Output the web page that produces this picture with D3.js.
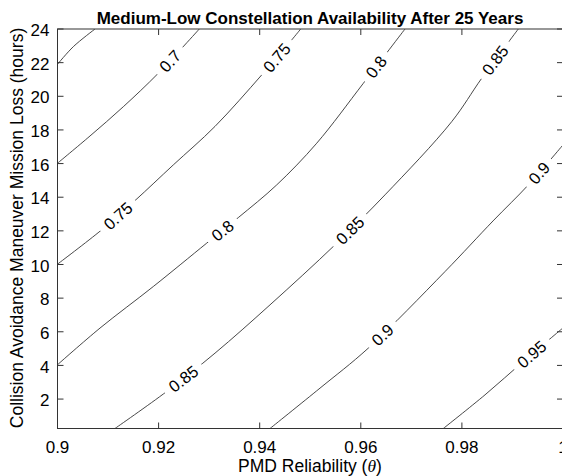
<!DOCTYPE html>
<html>
<head>
<meta charset="utf-8">
<script src="https://cdn.jsdelivr.net/npm/d3@7/dist/d3.min.js"></script>
<style>
body { margin: 0; background: #fff; }
text { font-family: Arial, "Liberation Sans", sans-serif; fill: #000; }
</style>
</head>
<body>
<svg id="chart" width="562" height="476"></svg>
<script>
// tick values
const xTicks = [0.9, 0.92, 0.94, 0.96, 0.98, 1];
const yTicks = [2, 4, 6, 8, 10, 12, 14, 16, 18, 20, 22, 24];

// contour lines: [theta, hours]
const levels = [0.65, 0.7, 0.75, 0.8, 0.85, 0.9, 0.95];
const line065 = [[0.9, 21.9], [0.90313, 22.95], [0.90742, 24]];
const line070 = [[0.9, 16.02], [0.90643, 17.64], [0.91302, 19.38], [0.91994, 21.37], [0.92805, 24]];
const line075 = [[0.9, 10.02], [0.90874, 12.06], [0.91533, 13.8], [0.92291, 15.92], [0.93116, 18.21], [0.9404, 21.27], [0.94633, 23.35], [0.94811, 24]];
const line080 = [[0.9, 4.04], [0.90841, 6.22], [0.91895, 8.69], [0.92952, 11.27], [0.93577, 12.79], [0.94336, 14.73], [0.95128, 17.21], [0.9605, 20.77], [0.96874, 24]];
const line085 = [[0.91137, 0.25], [0.9216, 2.45], [0.93116, 4.73], [0.94204, 7.6], [0.9549, 11.17], [0.96479, 14.14], [0.97798, 18.49], [0.98392, 21.07], [0.99116, 24]];
const line090 = [[0.94204, 0.25], [0.95193, 2.65], [0.96149, 5.03], [0.97666, 9.58], [0.98616, 12.59], [0.99314, 14.73], [1.0, 17.11]];
const line095 = [[0.97632, 0.25], [0.98457, 2.25], [0.99228, 4.27], [1.0, 6.23]];

// theta at which each inline label sits
const labels065 = [];
const labels070 = [0.92226];
const labels075 = [0.91197, 0.94336];
const labels080 = [0.93264, 0.96301];
const labels085 = [0.92489, 0.95786, 0.98655];
const labels090 = [0.96429, 0.99525];
const labels095 = [0.99381];

const contourLines = [line065, line070, line075, line080, line085, line090, line095];
const contourLabels = [labels065, labels070, labels075, labels080, labels085, labels090, labels095];

const margin = {top: 29, right: -1, bottom: 47.5, left: 57.5};
const width = 562, height = 476;

const svg = d3.select("#chart");

const x = d3.scaleLinear().domain([0.9, 1]).range([margin.left, width - margin.right]);
const y = d3.scaleLinear().domain([0.25, 24]).range([height - margin.bottom, margin.top]);

svg.append("defs").append("clipPath").attr("id", "plot-clip")
    .append("rect")
    .attr("x", x(0.9)).attr("y", y(24))
    .attr("width", x(1) - x(0.9)).attr("height", y(0.25) - y(24));

const lineGen = d3.line()
    .x(d => x(d[0]))
    .y(d => y(d[1]))
    .curve(d3.curveCatmullRom.alpha(0.5));

// Draw contour lines
const g = svg.append("g").attr("clip-path", "url(#plot-clip)");
const paths = g.selectAll(".contour")
    .data(contourLines)
    .enter().append("path")
    .attr("class", "contour")
    .attr("d", lineGen)
    .attr("fill", "none")
    .attr("stroke", "#333")
    .attr("stroke-width", 0.9);

// find the point on a path at a given pixel x (paths run left to right)
function pointAtX(node, px) {
    let lo = 0, hi = node.getTotalLength();
    for (let k = 0; k < 40; k++) {
        const mid = (lo + hi) / 2;
        if (node.getPointAtLength(mid).x < px) lo = mid; else hi = mid;
    }
    return lo;
}

// Inline labels: white gap + rotated text
paths.each(function (pts, i) {
    const node = this;
    const total = node.getTotalLength();
    contourLabels[i].forEach(theta => {
        const len = pointAtX(node, x(theta));
        const p = node.getPointAtLength(len);
        const a = node.getPointAtLength(Math.max(0, len - 4));
        const b = node.getPointAtLength(Math.min(total, len + 4));
        const ang = Math.atan2(b.y - a.y, b.x - a.x) * 180 / Math.PI;
        const lg = g.append("g")
            .attr("transform", `translate(${p.x},${p.y}) rotate(${ang})`);
        const rect = lg.append("rect").attr("fill", "#fff");
        const t = lg.append("text")
            .attr("text-anchor", "middle")
            .attr("dy", "0.36em")
            .style("font-size", "16.5px")
            .text(String(levels[i]));
        const w = t.node().getComputedTextLength() + 14;
        rect.attr("x", -w / 2).attr("y", -6).attr("width", w).attr("height", 12);
    });
});

// Axes box
const axisColor = "#333";
svg.append("rect")
    .attr("x", x(0.9)).attr("y", y(24))
    .attr("width", x(1) - x(0.9)).attr("height", y(0.25) - y(24))
    .attr("fill", "none").attr("stroke", axisColor).attr("stroke-width", 1);

const tickLen = 6;
const ticks = svg.append("g").attr("stroke", axisColor).attr("stroke-width", 1);
xTicks.forEach(t => {
    ticks.append("line").attr("x1", x(t)).attr("x2", x(t)).attr("y1", y(0.25)).attr("y2", y(0.25) - tickLen);
    ticks.append("line").attr("x1", x(t)).attr("x2", x(t)).attr("y1", y(24)).attr("y2", y(24) + tickLen);
});
yTicks.forEach(t => {
    ticks.append("line").attr("x1", x(0.9)).attr("x2", x(0.9) + tickLen).attr("y1", y(t)).attr("y2", y(t));
    ticks.append("line").attr("x1", x(1)).attr("x2", x(1) - tickLen).attr("y1", y(t)).attr("y2", y(t));
});

svg.append("g").selectAll("text")
    .data(xTicks)
    .enter().append("text")
    .attr("x", d => x(d))
    .attr("y", y(0.25) + 18)
    .attr("dy", "0.36em")
    .attr("text-anchor", "middle")
    .style("font-size", "17px")
    .text(d => String(d));

svg.append("g").selectAll("text")
    .data(yTicks)
    .enter().append("text")
    .attr("x", x(0.9) - 8)
    .attr("y", d => y(d) + 1)
    .attr("dy", "0.36em")
    .attr("text-anchor", "end")
    .style("font-size", "17px")
    .text(d => String(d));

// Titles
svg.append("text")
    .attr("x", 310)
    .attr("y", 18)
    .attr("dy", "0.36em")
    .attr("text-anchor", "middle")
    .style("font-size", "17px")
    .style("font-weight", "bold")
    .text("Medium-Low Constellation Availability After 25 Years");

const xl = svg.append("text")
    .attr("x", 310)
    .attr("y", 466)
    .attr("dy", "0.36em")
    .attr("text-anchor", "middle")
    .style("font-size", "17.5px");
xl.append("tspan").text("PMD Reliability (");
xl.append("tspan").style("font-style", "italic").style("font-family", "'Times New Roman', 'Liberation Serif', serif").text("θ");
xl.append("tspan").text(")");

svg.append("text")
    .attr("transform", "translate(17,228) rotate(-90)")
    .attr("dy", "0.36em")
    .attr("text-anchor", "middle")
    .style("font-size", "17.5px")
    .text("Collision Avoidance Maneuver Mission Loss (hours)");
</script>
</body>
</html>
